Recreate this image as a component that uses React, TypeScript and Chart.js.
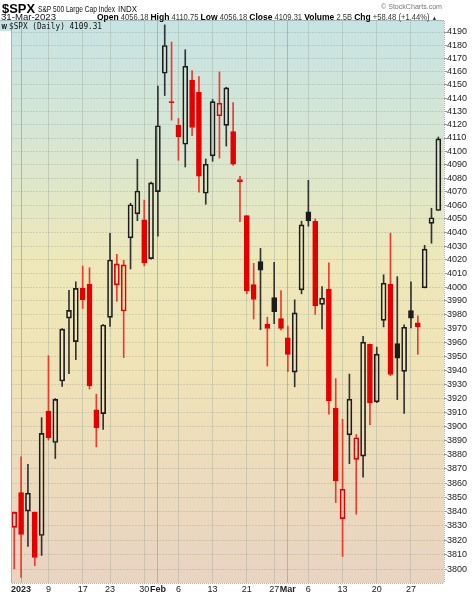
import React, { useEffect, useRef } from "react";
import { Chart, registerables } from "chart.js";

Chart.register(...registerables);

// ---- Data (S&P 500 daily) ----
const dates = [
  "2022-12-30",
  "2023-01-03", "2023-01-04", "2023-01-05", "2023-01-06", "2023-01-09", "2023-01-10", "2023-01-11", "2023-01-12", "2023-01-13", "2023-01-17",
  "2023-01-18", "2023-01-19", "2023-01-20", "2023-01-23", "2023-01-24", "2023-01-25", "2023-01-26", "2023-01-27", "2023-01-30", "2023-01-31",
  "2023-02-01", "2023-02-02", "2023-02-03", "2023-02-06", "2023-02-07", "2023-02-08", "2023-02-09", "2023-02-10", "2023-02-13", "2023-02-14",
  "2023-02-15", "2023-02-16", "2023-02-17", "2023-02-21", "2023-02-22", "2023-02-23", "2023-02-24", "2023-02-27", "2023-02-28",
  "2023-03-01", "2023-03-02", "2023-03-03", "2023-03-06", "2023-03-07", "2023-03-08", "2023-03-09", "2023-03-10", "2023-03-13", "2023-03-14",
  "2023-03-15", "2023-03-16", "2023-03-17", "2023-03-20", "2023-03-21", "2023-03-22", "2023-03-23", "2023-03-24", "2023-03-27", "2023-03-28",
  "2023-03-29", "2023-03-30", "2023-03-31",
];

const opens = [
  3829.06,
  3853.29, 3840.36, 3839.74, 3823.37, 3910.82, 3888.57, 3932.35, 3977.57, 3960.60, 3999.28,
  4002.25, 3911.84, 3909.04, 3978.14, 4001.74, 3982.71, 4036.08, 4053.72, 4049.27, 4020.85,
  4070.07, 4158.68, 4136.69, 4119.57, 4105.35, 4153.47, 4144.25, 4068.92, 4096.62, 4126.70,
  4119.50, 4114.75, 4077.39, 4052.35, 4001.83, 4018.60, 3973.24, 3992.36, 3977.19,
  3963.34, 3938.68, 3998.02, 4055.15, 4048.26, 3987.55, 3998.66, 3912.77, 3835.12, 3894.01,
  3876.74, 3878.93, 3958.69, 3917.47, 3975.89, 4002.04, 3959.21, 3939.21, 3982.93, 3974.13,
  3999.53, 4046.74, 4056.18,
];

const highs = [
  3839.85,
  3878.46, 3873.16, 3839.74, 3906.19, 3950.57, 3919.83, 3970.07, 3997.76, 4003.95, 4015.39,
  4014.16, 3922.94, 3972.96, 4039.31, 4023.92, 4019.55, 4061.57, 4094.21, 4063.85, 4077.16,
  4148.95, 4195.44, 4182.36, 4124.63, 4176.54, 4160.67, 4156.23, 4094.36, 4138.90, 4159.77,
  4148.11, 4136.54, 4081.51, 4052.35, 4017.37, 4028.30, 3978.25, 4018.05, 3997.50,
  3971.73, 3990.84, 4048.29, 4078.49, 4050.00, 4000.41, 4017.81, 3934.05, 3905.05, 3937.29,
  3894.26, 3964.46, 3958.91, 3956.62, 4009.08, 4039.49, 4007.66, 3972.74, 4003.83, 3979.20,
  4030.59, 4057.85, 4110.75,
];

const lows = [
  3800.34,
  3794.33, 3815.77, 3802.42, 3809.56, 3890.42, 3877.29, 3928.54, 3937.56, 3947.67, 3984.57,
  3926.59, 3885.54, 3897.86, 3971.64, 3989.79, 3949.06, 4013.29, 4048.70, 4015.55, 4020.44,
  4037.20, 4141.88, 4123.36, 4093.38, 4088.39, 4111.67, 4069.67, 4060.79, 4092.67, 4095.01,
  4103.98, 4089.61, 4047.95, 3995.19, 3976.90, 3969.19, 3943.08, 3973.55, 3968.98,
  3939.05, 3928.16, 3995.17, 4044.61, 3980.31, 3969.76, 3908.70, 3846.32, 3808.86, 3873.63,
  3838.24, 3864.11, 3901.27, 3916.89, 3971.19, 3936.17, 3919.05, 3909.16, 3970.47, 3951.53,
  3999.53, 4032.10, 4056.18,
];

const closes = [
  3839.50,
  3824.14, 3852.97, 3808.10, 3895.08, 3892.09, 3919.25, 3969.61, 3983.17, 3999.09, 3990.97,
  3928.86, 3898.85, 3972.61, 4019.81, 4016.95, 4016.22, 4060.43, 4070.56, 4017.77, 4076.60,
  4119.21, 4179.76, 4136.48, 4111.08, 4164.00, 4117.86, 4081.50, 4090.46, 4137.29, 4136.13,
  4147.60, 4090.41, 4079.09, 3997.34, 3991.05, 4012.32, 3970.04, 3982.24, 3970.15,
  3951.39, 3981.35, 4045.64, 4048.42, 3986.37, 3992.01, 3918.32, 3861.59, 3855.76, 3919.29,
  3891.93, 3960.28, 3916.64, 3951.57, 4002.87, 3936.97, 3948.72, 3970.99, 3977.53, 3971.27,
  4027.81, 4050.83, 4109.31,
];

const closeBeforeFirst = 3849.28;

const yTicks = [
  3800, 3810, 3820, 3830, 3840, 3850, 3860, 3870, 3880, 3890,
  3900, 3910, 3920, 3930, 3940, 3950, 3960, 3970, 3980, 3990,
  4000, 4010, 4020, 4030, 4040, 4050, 4060, 4070, 4080, 4090,
  4100, 4110, 4120, 4130, 4140, 4150, 4160, 4170, 4180, 4190,
];

const xTickDates = [
  "2023-01-03", "2023-01-09", "2023-01-17", "2023-01-23", "2023-01-30",
  "2023-02-01", "2023-02-06", "2023-02-13", "2023-02-21", "2023-02-27",
  "2023-03-01", "2023-03-06", "2023-03-13", "2023-03-20", "2023-03-27",
];
const xTickLabels = ["2023", "9", "17", "23", "30", "Feb", "6", "13", "21", "27", "Mar", "6", "13", "20", "27"];
const boldLabels = ["2023", "Feb", "Mar"];

const volumeText = "2.5B";

const RED = "#e40000";
const RED_WICK = "#ec3a30";
const BLACK = "#1c1c1c";
const BLACK_WICK = "#333333";
const FONT = "'Liberation Sans', Arial, sans-serif";

const labelFor = (idx: number) => {
  const k = xTickDates.indexOf(dates[idx]);
  return k >= 0 ? xTickLabels[k] : "";
};

export default function App() {
  const canvasRef = useRef<HTMLCanvasElement | null>(null);

  useEffect(() => {
    const canvas = canvasRef.current;
    if (!canvas) return;

    const prev = closes.map((_, i) => (i === 0 ? closeBeforeFirst : closes[i - 1]));
    const isRed = closes.map((c, i) => c < prev[i]);
    const colors = isRed.map((r) => (r ? RED : BLACK));
    const wickColors = isRed.map((r) => (r ? RED_WICK : BLACK_WICK));
    const fills = closes.map((c, i) => (c > opens[i] ? "rgba(0,0,0,0)" : colors[i]));

    const lowerWick = dates.map((_, i) => ({ x: i, y: [lows[i], Math.min(opens[i], closes[i])] }));
    const upperWick = dates.map((_, i) => ({ x: i, y: [Math.max(opens[i], closes[i]), highs[i]] }));
    const bodies = dates.map((_, i) => ({ x: i, y: [opens[i], closes[i]] }));

    const tickIdx = xTickDates.map((d) => dates.indexOf(d));

    const bgPlugin = {
      id: "bgPlugin",
      beforeDraw(chart: any) {
        const { ctx, chartArea: a } = chart;
        ctx.save();
        const g = ctx.createLinearGradient(0, a.top, 0, a.bottom);
        g.addColorStop(0, "#c6e3e3");
        g.addColorStop(0.2, "#d6e6d4");
        g.addColorStop(0.42, "#ede8ba");
        g.addColorStop(0.6, "#f0e4b6");
        g.addColorStop(1, "#e9d3c2");
        ctx.fillStyle = g;
        ctx.fillRect(a.left, a.top, a.right - a.left, a.bottom - a.top);
        ctx.fillStyle = "#c6e3e3";
        ctx.fillRect(0, a.top, a.left, 10);
        ctx.restore();
      },
      afterDraw(chart: any) {
        const { ctx, chartArea: a } = chart;
        ctx.save();
        ctx.lineWidth = 1;
        ctx.strokeStyle = "#a8b8b8";
        ctx.beginPath();
        ctx.moveTo(0, a.top - 0.5);
        ctx.lineTo(a.right, a.top - 0.5);
        ctx.moveTo(a.left - 0.5, a.top + 10);
        ctx.lineTo(a.left - 0.5, a.bottom);
        ctx.stroke();
        ctx.strokeStyle = "#9fb6c4";
        ctx.setLineDash([1, 1]);
        ctx.beginPath();
        ctx.moveTo(a.right + 0.5, a.top);
        ctx.lineTo(a.right + 0.5, a.bottom);
        ctx.moveTo(a.left, a.bottom + 0.5);
        ctx.lineTo(a.right, a.bottom + 0.5);
        ctx.stroke();
        ctx.restore();
      },
    };

    const chart = new Chart(canvas, {
      type: "bar",
      data: {
        datasets: [
          {
            data: lowerWick as any,
            backgroundColor: wickColors,
            borderWidth: 0,
            barThickness: 1,
            grouped: false,
            order: 2,
          },
          {
            data: upperWick as any,
            backgroundColor: wickColors,
            borderWidth: 0,
            barThickness: 1,
            grouped: false,
            order: 2,
          },
          {
            data: bodies as any,
            backgroundColor: fills,
            borderColor: colors,
            borderWidth: 1,
            borderSkipped: false,
            barThickness: 5,
            minBarLength: 1,
            grouped: false,
            order: 1,
          },
        ],
      },
      options: {
        animation: false,
        responsive: false,
        devicePixelRatio: 1,
        layout: { padding: { left: 12, top: 21, right: 0, bottom: 0 } },
        plugins: { legend: { display: false }, tooltip: { enabled: false } },
        scales: {
          x: {
            type: "linear",
            min: -0.33,
            max: 62.83,
            offset: false,
            afterBuildTicks: (s: any) => {
              s.ticks = tickIdx.map((v) => ({ value: v }));
            },
            afterFit: (s: any) => {
              s.height = 11;
            },
            ticks: {
              autoSkip: false,
              maxRotation: 0,
              padding: 1,
              color: "#222",
              font: (ctx: any) => ({
                family: FONT,
                size: 9,
                weight: boldLabels.includes(labelFor(ctx.tick ? ctx.tick.value : 0)) ? "bold" : "normal",
              }),
              callback: (v: any) => labelFor(Number(v)),
            },
            grid: {
              offset: false,
              drawTicks: false,
              color: (ctx: any) =>
                ctx.tick && boldLabels.includes(labelFor(ctx.tick.value))
                  ? "rgba(150,170,135,0.7)"
                  : "rgba(165,175,160,0.45)",
            },
            border: { display: false },
          },
          y: {
            type: "logarithmic",
            position: "right",
            min: 3790.5,
            max: 4198.4,
            afterBuildTicks: (s: any) => {
              s.ticks = yTicks.map((v) => ({ value: v }));
            },
            afterFit: (s: any) => {
              s.width = 31;
            },
            ticks: {
              autoSkip: false,
              padding: 0,
              color: "#222",
              font: { family: FONT, size: 9 },
              callback: (v: any) => String(v),
            },
            grid: {
              color: "rgba(120,130,130,0.24)",
              tickLength: 3,
              tickColor: "#999",
            },
            border: { display: false, dash: [2, 1] },
          },
        },
      },
      plugins: [bgPlugin],
    } as any);

    return () => chart.destroy();
  }, []);

  const n = closes.length;
  const last = n - 1;
  const chg = closes[last] - closes[last - 1];
  const pct = (chg / closes[last - 1]) * 100;
  const sign = chg >= 0 ? "+" : "";

  return (
    <div style={{ position: "absolute", left: 0, top: 0, width: 475, height: 594, background: "#fff" }}>
      <canvas
        ref={canvasRef}
        width={475}
        height={594}
        style={{ position: "absolute", left: 0, top: 0, width: 475, height: 594, display: "block" }}
      />
      <svg
        width={475}
        height={34}
        style={{ position: "absolute", left: 0, top: 0, pointerEvents: "none" }}
        fontFamily={FONT}
      >
        <text x={2} y={12.5} fontWeight="bold" fontSize={13} textLength={33} lengthAdjust="spacingAndGlyphs" fill="#000">
          $SPX
        </text>
        <text x={38} y={12} fontSize={9} textLength={77} lengthAdjust="spacingAndGlyphs" fill="#111">
          S&amp;P 500 Large Cap Index
        </text>
        <text x={118} y={12} fontSize={9} textLength={19} lengthAdjust="spacingAndGlyphs" fill="#111">
          INDX
        </text>
        <text x={381} y={9} fontSize={8} textLength={61} lengthAdjust="spacingAndGlyphs" fill="#777">
          © StockCharts.com
        </text>
        <text x={1} y={19.5} fontSize={8.5} textLength={55} lengthAdjust="spacingAndGlyphs" fill="#111">
          31-Mar-2023
        </text>
        <text x={97} y={19.5} fontSize={8.5} textLength={340} lengthAdjust="spacingAndGlyphs" fill="#333">
          <tspan fontWeight="bold" fill="#000" fontSize={9.5}>Open</tspan>
          {" " + opens[last].toFixed(2) + " "}
          <tspan fontWeight="bold" fill="#000" fontSize={9.5}>High</tspan>
          {" " + highs[last].toFixed(2) + " "}
          <tspan fontWeight="bold" fill="#000" fontSize={9.5}>Low</tspan>
          {" " + lows[last].toFixed(2) + " "}
          <tspan fontWeight="bold" fill="#000" fontSize={9.5}>Close</tspan>
          {" " + closes[last].toFixed(2) + " "}
          <tspan fontWeight="bold" fill="#000" fontSize={9.5}>Volume</tspan>
          {" " + volumeText + " "}
          <tspan fontWeight="bold" fill="#000" fontSize={9.5}>Chg</tspan>
          {" " + sign + chg.toFixed(2) + " (" + sign + pct.toFixed(2) + "%) "}
          <tspan fontSize={6}>▲</tspan>
        </text>
        <text x={1.5} y={28.5} fontSize={7} fontWeight="bold" textLength={5.5} lengthAdjust="spacingAndGlyphs" fill="#000">
          W
        </text>
        <text
          x={9}
          y={28.5}
          fontFamily="'DejaVu Sans Mono', monospace"
          fontSize={8}
          textLength={93}
          lengthAdjust="spacingAndGlyphs"
          fill="#111"
        >
          $SPX (Daily) {closes[last].toFixed(2)}
        </text>
      </svg>
    </div>
  );
}
